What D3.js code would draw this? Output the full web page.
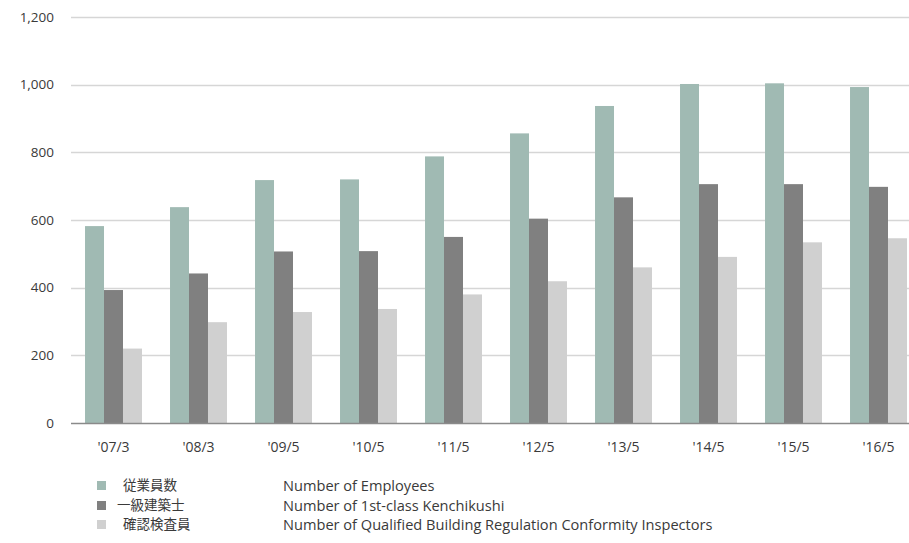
<!DOCTYPE html>
<html>
<head>
<meta charset="utf-8">
<script src="https://cdn.jsdelivr.net/npm/d3@7"></script>
<style>
  html, body { margin: 0; padding: 0; background: #fff; }
  svg { display: block; font-family: "Open Sans", "Noto Sans", sans-serif; }
</style>
</head>
<body>
<svg id="chart" width="909" height="543"></svg>
<script>
const categories = ["'07/3", "'08/3", "'09/5", "'10/5", "'11/5", "'12/5", "'13/5", "'14/5", "'15/5", "'16/5"];
const employees   = [582, 638, 718, 720, 788, 856, 937, 1002, 1004, 993];
const kenchikushi = [393, 442, 507, 508, 550, 604, 667, 706, 706, 698];
const inspectors  = [220, 298, 328, 337, 380, 419, 460, 491, 534, 546];
const yTicks = [0, 200, 400, 600, 800, 1000, 1200];
const seriesNamesJa = ["従業員数", "一級建築士", "確認検査員"];
const seriesNamesEn = ["Number of Employees", "Number of 1st-class Kenchikushi", "Number of Qualified Building Regulation Conformity Inspectors"];
const seriesColors = ["#a0bab3", "#808080", "#d0d0d0"];

const series = [employees, kenchikushi, inspectors];
const svg = d3.select("#chart");

const plotLeft = 71, plotRight = 921, plotTop = 17, plotBottom = 423;

const x = d3.scaleBand().domain(categories).range([plotLeft, plotRight]).paddingInner(0.33).paddingOuter(0.165);
const xs = d3.scaleBand().domain(d3.range(series.length)).range([0, x.bandwidth()]);
const y = d3.scaleLinear().domain([0, 1200]).range([plotBottom, plotTop]);

// gridlines
svg.append("g")
  .selectAll("line")
  .data(yTicks.filter(d => d > 0))
  .join("line")
  .attr("x1", plotLeft).attr("x2", 909)
  .attr("y1", d => Math.round(y(d)) + 0.5).attr("y2", d => Math.round(y(d)) + 0.5)
  .attr("stroke", "#d6d6d6").attr("stroke-width", 1.3);

// y tick labels
svg.append("g")
  .selectAll("text")
  .data(yTicks)
  .join("text")
  .attr("x", 54)
  .attr("y", d => y(d))
  .attr("dy", "0.35em")
  .attr("text-anchor", "end")
  .attr("font-size", 13.5)
  .attr("fill", "#3a3a3a")
  .text(d => d3.format(",")(d));

// bars
const groups = svg.append("g")
  .selectAll("g")
  .data(series)
  .join("g")
  .attr("fill", (d, i) => seriesColors[i]);

groups.selectAll("rect")
  .data((vals, si) => vals.map((v, ci) => ({ v, ci, si })))
  .join("rect")
  .attr("x", d => x(categories[d.ci]) + xs(d.si))
  .attr("width", xs.bandwidth())
  .attr("y", d => y(d.v))
  .attr("height", d => y(0) - y(d.v));

// baseline
svg.append("line")
  .attr("x1", plotLeft).attr("x2", 909)
  .attr("y1", y(0) + 0.5).attr("y2", y(0) + 0.5)
  .attr("stroke", "#8a8a8a").attr("stroke-width", 1.5);

// x labels
svg.append("g")
  .selectAll("text")
  .data(categories)
  .join("text")
  .attr("x", d => x(d) + x.bandwidth() / 2)
  .attr("y", 447)
  .attr("dy", "0.35em")
  .attr("text-anchor", "middle")
  .attr("font-size", 14)
  .attr("fill", "#3a3a3a")
  .text(d => d);

// legend
const legendY = [485.5, 505.5, 524.5];
const jaX = [123, 117, 123];
const lg = svg.append("g")
  .selectAll("g")
  .data(seriesNamesJa)
  .join("g");
lg.append("rect")
  .attr("x", 97).attr("y", (d, i) => legendY[i] - 4.5)
  .attr("width", 9).attr("height", 9)
  .attr("fill", (d, i) => seriesColors[i]);
lg.append("text")
  .attr("x", (d, i) => jaX[i]).attr("y", (d, i) => legendY[i])
  .attr("dy", "0.35em")
  .attr("font-family", "'Noto Sans CJK JP', sans-serif")
  .attr("font-size", 13.5)
  .attr("fill", "#3a3a3a")
  .text(d => d);
lg.append("text")
  .attr("x", 283).attr("y", (d, i) => legendY[i] + 0.5)
  .attr("dy", "0.35em")
  .attr("font-size", 14.6)
  .attr("fill", "#3a3a3a")
  .text((d, i) => seriesNamesEn[i]);
</script>
</body>
</html>
